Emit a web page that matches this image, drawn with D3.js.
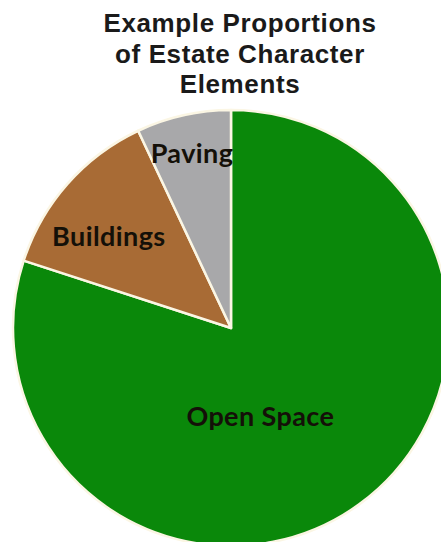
<!DOCTYPE html>
<html>
<head>
<meta charset="utf-8">
<script src="https://cdn.jsdelivr.net/npm/d3@7"></script>
<style>
  body { margin: 0; background: #fff; }
</style>
</head>
<body>
<script>
const W = 441, H = 542;
const CX = 231, CY = 328, R = 218;

// chart data
const categories = ["Open Space", "Buildings", "Paving"];
const values = [80, 13, 7];
const colors = ["#0a880a", "#a86b35", "#a8a8aa"];
const titleLines = ["Example Proportions", "of Estate Character", "Elements"];

const svg = d3.select("body").append("svg").attr("width", W).attr("height", H);

const rows = categories.map((c, i) => ({name: c, value: values[i], color: colors[i]}));
const pie = d3.pie().sort(null).value(d => d.value);
const arcs = pie(rows);
const arc = d3.arc().innerRadius(0).outerRadius(R);

const g = svg.append("g").attr("transform", "translate(" + CX + "," + CY + ")");
g.selectAll("path")
  .data(arcs)
  .join("path")
  .attr("d", arc)
  .attr("fill", d => d.data.color)
  .attr("stroke", "#fbf6e4")
  .attr("stroke-width", 2.5)
  .attr("stroke-linejoin", "round");

// label placement (radius fraction, angle shift in radians)
const labelPos = {"Open Space": [0.43, 0.31], "Buildings": [0.7, -0.08], "Paving": [0.82, 0]};
g.selectAll("text.lbl")
  .data(arcs)
  .join("text")
  .attr("class", "lbl")
  .attr("x", d => d3.pointRadial((d.startAngle + d.endAngle) / 2 + labelPos[d.data.name][1], R * labelPos[d.data.name][0])[0])
  .attr("y", d => d3.pointRadial((d.startAngle + d.endAngle) / 2 + labelPos[d.data.name][1], R * labelPos[d.data.name][0])[1])
  .attr("dy", "0.35em")
  .attr("text-anchor", "middle")
  .style("font-family", "Lato, 'Open Sans', sans-serif")
  .style("font-weight", "bold")
  .style("font-size", "27px")
  .style("letter-spacing", "0.4px")
  .style("fill", "#141008")
  .text(d => d.data.name);

svg.append("g").selectAll("text")
  .data(titleLines)
  .join("text")
  .attr("x", 240)
  .attr("y", (d, i) => 32 + i * 30.5)
  .attr("text-anchor", "middle")
  .style("font-family", "'Liberation Sans', Arial, sans-serif")
  .style("font-weight", "bold")
  .style("font-size", "26px")
  .style("letter-spacing", "0.6px")
  .style("fill", "#1a1a1a")
  .text(d => d);
</script>
</body>
</html>
